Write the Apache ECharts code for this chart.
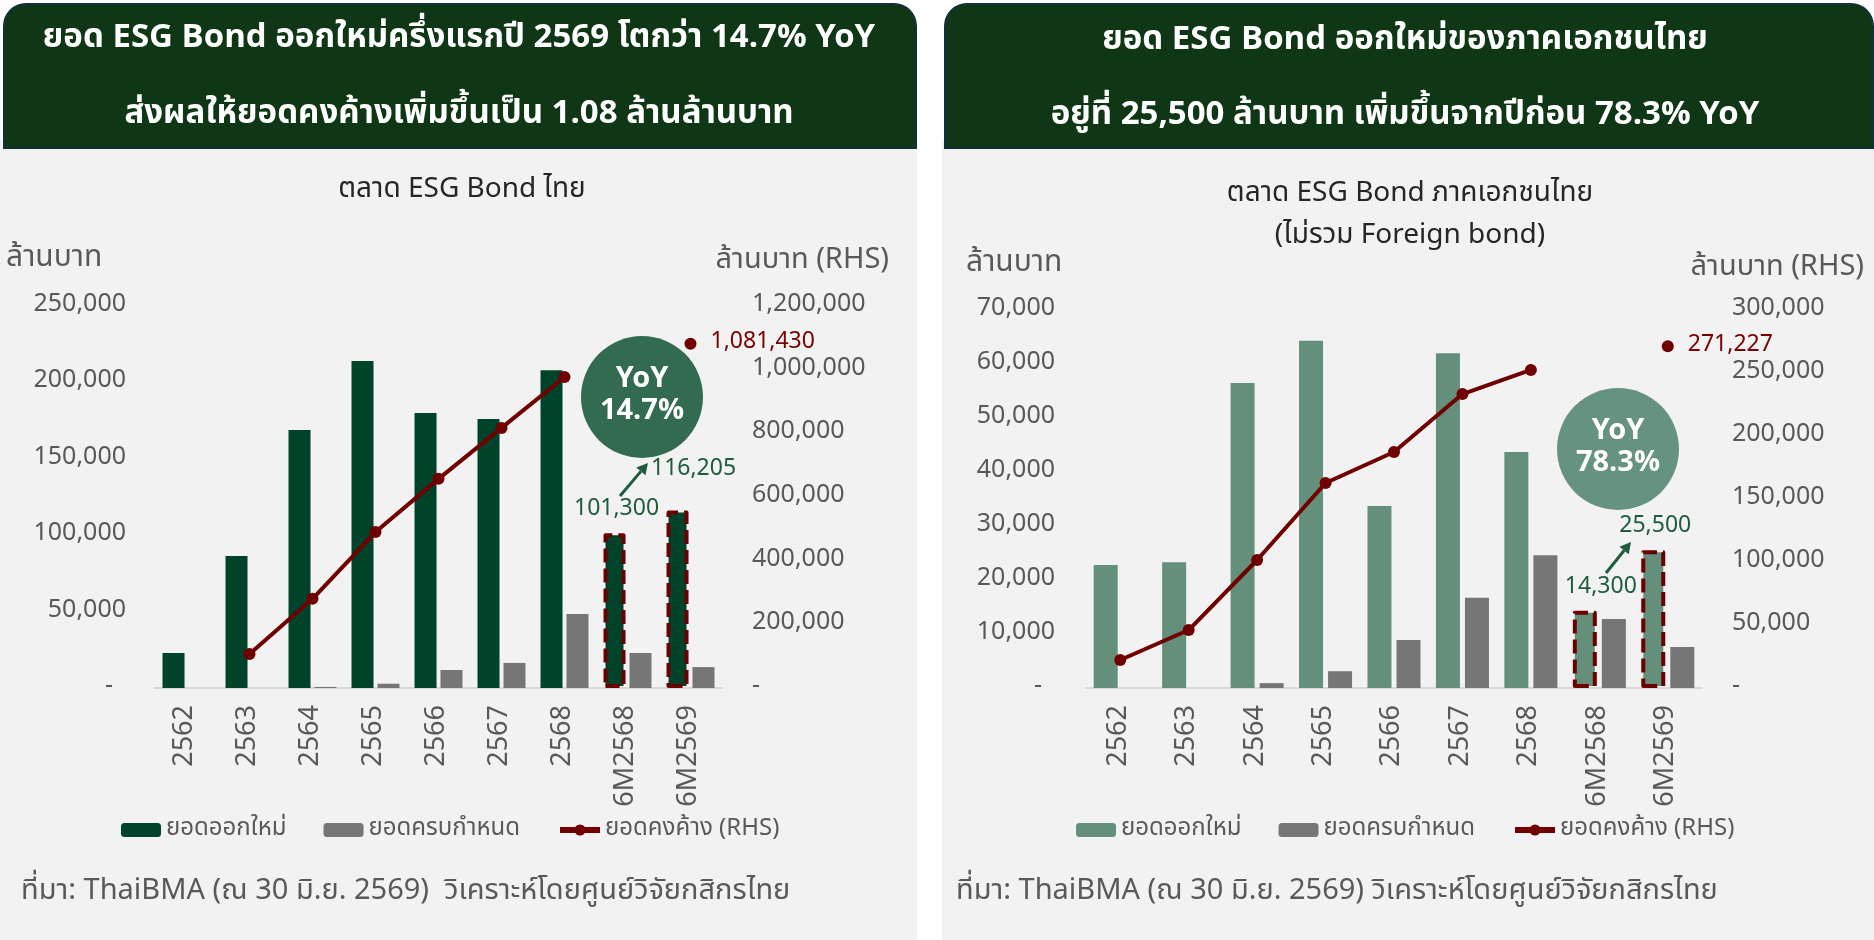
<html>

<head>
    <meta charset="utf-8">
    <title>ESG Bond</title>
    <script src="https://cdn.jsdelivr.net/npm/echarts@6.0.0/dist/echarts.min.js"></script>
    <style>
        html, body { margin: 0; padding: 0; background: #ffffff; }
    </style>
</head>

<body>
    <div id="main" style="width:1874px;height:940px;"></div>
    <script type="text/javascript">
        // categories (shared by both charts)
        var categories = ['2562', '2563', '2564', '2565', '2566', '2567', '2568', '6M2568', '6M2569'];

        // left chart: ESG bond market, all issuers (million baht)
        var allNewIssue = [22900, 86400, 168800, 214000, 180000, 176000, 208000, 101300, 116205];
        var allMatured = [0, 0, 700, 2800, 11800, 16400, 48400, 22900, 13700];
        var allOutstanding = [null, 107000, 280000, 490000, 657000, 817000, 977000, null, 1081430];

        // right chart: private sector, excl. foreign bond (million baht)
        var privNewIssue = [22800, 23300, 56500, 64300, 33700, 62000, 43700, 14300, 25500];
        var privMatured = [0, 0, 900, 3100, 8900, 16700, 24600, 12800, 7600];
        var privOutstanding = [22200, 46000, 101600, 162700, 187300, 233300, 252400, null, 271227];

        // axis ranges
        var allLeftMax = 250000, allLeftStep = 50000;
        var allRightMax = 1200000, allRightStep = 200000;
        var privLeftMax = 70000, privLeftStep = 10000;
        var privRightMax = 300000, privRightStep = 50000;

        var FONT = "'Noto Sans Thai', 'Noto Sans', Roboto, 'DejaVu Sans', sans-serif";
        var GREEN_DARK = '#00432A';
        var GREEN_SAGE = '#638F7B';
        var GREY = '#767676';
        var RED = '#700000';
        var TXT = '#595959';
        var LABEL_GREEN = '#1D5C3D';

        var seriesNames = ['ยอดออกใหม่', 'ยอดครบกำหนด', 'ยอดคงค้าง (RHS)'];

        function fmtLeft(v) { return v === 0 ? '-  ' : v.toLocaleString('en-US'); }
        function fmtRight(v) { return v === 0 ? '-' : v.toLocaleString('en-US'); }

        // bars for new issuance; the two half-year bars get a dashed frame and a value label
        function issueData(values, color, labelOffsets) {
            return values.map(function (v, i) {
                var item = { value: v };
                var k = i - (values.length - 2);
                if (k >= 0) {
                    item.itemStyle = {
                        color: color, borderColor: '#6B0000', borderWidth: 4,
                        borderType: [14, 6], borderJoin: 'round'
                    };
                    item.label = {
                        show: true, position: 'top', offset: labelOffsets[k],
                        color: LABEL_GREEN, fontSize: 23, fontFamily: FONT,
                        formatter: function (p) { return p.value.toLocaleString('en-US'); }
                    };
                }
                return item;
            });
        }

        function outstandingData(values) {
            return values.map(function (v, i) {
                var item = { value: v };
                if (i === values.length - 1) {
                    item.label = {
                        show: true, position: 'right', distance: 14,
                        color: '#7A0000', fontSize: 23, fontFamily: FONT,
                        formatter: function (p) { return p.value.toLocaleString('en-US'); }
                    };
                }
                return item;
            });
        }

        function arrow(x1, y1, x2, y2, color) {
            var a = Math.atan2(y2 - y1, x2 - x1);
            var L = 11, W = 6;
            var bx = x2 - L * Math.cos(a), by = y2 - L * Math.sin(a);
            var px = -Math.sin(a) * W, py = Math.cos(a) * W;
            return [
                { type: 'line', z: 50, shape: { x1: x1, y1: y1, x2: bx, y2: by }, style: { stroke: color, lineWidth: 3 } },
                { type: 'polygon', z: 50, shape: { points: [[x2, y2], [bx + px, by + py], [bx - px, by - py]] }, style: { fill: color } }
            ];
        }

        function txt(text, x, y, size, color, align, weight) {
            return {
                type: 'text', z: 50,
                style: {
                    text: text, x: x, y: y, fill: color,
                    fontSize: size, fontFamily: FONT, fontWeight: weight || 'normal',
                    textAlign: align || 'left', textVerticalAlign: 'middle'
                }
            };
        }

        var graphics = [
            // panels
            { type: 'rect', z: -10, shape: { x: 0, y: 140, width: 917, height: 800 }, style: { fill: '#F2F2F2' } },
            { type: 'rect', z: -10, shape: { x: 942, y: 140, width: 932, height: 800 }, style: { fill: '#F2F2F2' } },
            { type: 'rect', z: -5, shape: { x: 4, y: 4, width: 912, height: 144, r: [22, 22, 0, 0] }, style: { fill: '#0F3716', stroke: '#12303A', lineWidth: 2 } },
            { type: 'rect', z: -5, shape: { x: 945, y: 4, width: 928, height: 144, r: [22, 22, 0, 0] }, style: { fill: '#0F3716', stroke: '#12303A', lineWidth: 2 } },

            // headers
            txt('ยอด ESG Bond ออกใหม่ครึ่งแรกปี 2569 โตกว่า 14.7% YoY', 459, 40, 33, '#FFFFFF', 'center', 'bold'),
            txt('ส่งผลให้ยอดคงค้างเพิ่มขึ้นเป็น 1.08 ล้านล้านบาท', 459, 116, 33, '#FFFFFF', 'center', 'bold'),
            txt('ยอด ESG Bond ออกใหม่ของภาคเอกชนไทย', 1405, 42, 33, '#FFFFFF', 'center', 'bold'),
            txt('อยู่ที่ 25,500 ล้านบาท เพิ่มขึ้นจากปีก่อน 78.3% YoY', 1405, 117, 33, '#FFFFFF', 'center', 'bold'),

            // chart titles
            txt('ตลาด ESG Bond ไทย', 462, 191, 28, '#262626', 'center'),
            txt('ตลาด ESG Bond ภาคเอกชนไทย', 1410, 195, 28, '#262626', 'center'),
            txt('(ไม่รวม Foreign bond)', 1410, 237, 28, '#262626', 'center'),

            // axis titles
            txt('ล้านบาท', 6, 260, 30, TXT, 'left'),
            txt('ล้านบาท (RHS)', 889, 262, 29, TXT, 'right'),
            txt('ล้านบาท', 966, 265, 30, TXT, 'left'),
            txt('ล้านบาท (RHS)', 1864, 269, 29, TXT, 'right'),

            // sources
            txt('ที่มา: ThaiBMA (ณ 30 มิ.ย. 2569)  วิเคราะห์โดยศูนย์วิจัยกสิกรไทย', 21, 893, 29, TXT, 'left'),
            txt('ที่มา: ThaiBMA (ณ 30 มิ.ย. 2569) วิเคราะห์โดยศูนย์วิจัยกสิกรไทย', 956, 893, 29, TXT, 'left'),

            // YoY bubbles
            { type: 'circle', z: 40, shape: { cx: 642, cy: 397, r: 61 }, style: { fill: '#336B51' } },
            txt('YoY', 642, 381, 29, '#FFFFFF', 'center', 'bold'),
            txt('14.7%', 642, 413, 29, '#FFFFFF', 'center', 'bold'),
            { type: 'circle', z: 40, shape: { cx: 1618, cy: 449, r: 61 }, style: { fill: '#66937F' } },
            txt('YoY', 1618, 433, 29, '#FFFFFF', 'center', 'bold'),
            txt('78.3%', 1618, 465, 29, '#FFFFFF', 'center', 'bold')
        ]
            .concat(arrow(620, 496, 648, 463, LABEL_GREEN))
            .concat(arrow(1606, 573, 1631, 542, LABEL_GREEN));

        function xAxisFor(grid) {
            return {
                type: 'category', gridIndex: grid, data: categories,
                axisLine: { lineStyle: { color: '#D9D9D9', width: 2 } },
                axisTick: { show: false },
                axisLabel: { rotate: 90, margin: 17, fontSize: 27, color: TXT, fontFamily: FONT }
            };
        }

        function yAxisFor(grid, pos, max, step, fmt, margin) {
            return {
                type: 'value', gridIndex: grid, position: pos, min: 0, max: max, interval: step,
                splitLine: { show: false }, axisLine: { show: false }, axisTick: { show: false },
                axisLabel: { formatter: fmt, fontSize: 25, color: TXT, margin: margin, fontFamily: FONT }
            };
        }

        function legendFor(left, issueColor) {
            return {
                left: left, top: 813,
                itemWidth: 40, itemHeight: 14, itemGap: 37,
                textStyle: { fontSize: 24, color: TXT, fontFamily: FONT },
                data: [
                    { name: seriesNames[0], itemStyle: { color: issueColor } },
                    { name: seriesNames[1], itemStyle: { color: GREY } },
                    { name: seriesNames[2], itemStyle: { color: RED }, lineStyle: { color: RED, width: 6 } }
                ]
            };
        }

        var myChart = echarts.init(document.getElementById('main'));
        var option = {
            backgroundColor: '#FFFFFF',
            animation: false,
            textStyle: { fontFamily: FONT },
            graphic: graphics,
            grid: [
                { left: 155, top: 306, width: 567, height: 382 },
                { left: 1086, top: 310, width: 616, height: 378 }
            ],
            legend: [legendFor(116, GREEN_DARK), legendFor(1071, GREEN_SAGE)],
            xAxis: [xAxisFor(0), xAxisFor(1)],
            yAxis: [
                yAxisFor(0, 'left', allLeftMax, allLeftStep, fmtLeft, 29),
                yAxisFor(0, 'right', allRightMax, allRightStep, fmtRight, 30),
                yAxisFor(1, 'left', privLeftMax, privLeftStep, fmtLeft, 31),
                yAxisFor(1, 'right', privRightMax, privRightStep, fmtRight, 30)
            ],
            series: [
                {
                    name: seriesNames[0], type: 'bar', xAxisIndex: 0, yAxisIndex: 0,
                    barWidth: 22, barGap: '18%', itemStyle: { color: GREEN_DARK },
                    data: issueData(allNewIssue, GREEN_DARK, [[2, -6], [16, -24]])
                },
                {
                    name: seriesNames[1], type: 'bar', xAxisIndex: 0, yAxisIndex: 0,
                    barWidth: 22, barGap: '18%', itemStyle: { color: GREY },
                    data: allMatured
                },
                {
                    name: seriesNames[2], type: 'line', xAxisIndex: 0, yAxisIndex: 1,
                    color: RED, symbol: 'circle', symbolSize: 12,
                    lineStyle: { width: 4, color: RED }, itemStyle: { color: RED },
                    data: outstandingData(allOutstanding)
                },
                {
                    name: seriesNames[0], type: 'bar', xAxisIndex: 1, yAxisIndex: 2,
                    barWidth: 24, barGap: '21%', itemStyle: { color: GREEN_SAGE },
                    data: issueData(privNewIssue, GREEN_SAGE, [[16, -6], [2, -6]])
                },
                {
                    name: seriesNames[1], type: 'bar', xAxisIndex: 1, yAxisIndex: 2,
                    barWidth: 24, barGap: '21%', itemStyle: { color: GREY },
                    data: privMatured
                },
                {
                    name: seriesNames[2], type: 'line', xAxisIndex: 1, yAxisIndex: 3,
                    color: RED, symbol: 'circle', symbolSize: 12,
                    lineStyle: { width: 4, color: RED }, itemStyle: { color: RED },
                    data: outstandingData(privOutstanding)
                }
            ]
        };
        option && myChart.setOption(option);
    </script>
</body>

</html>
